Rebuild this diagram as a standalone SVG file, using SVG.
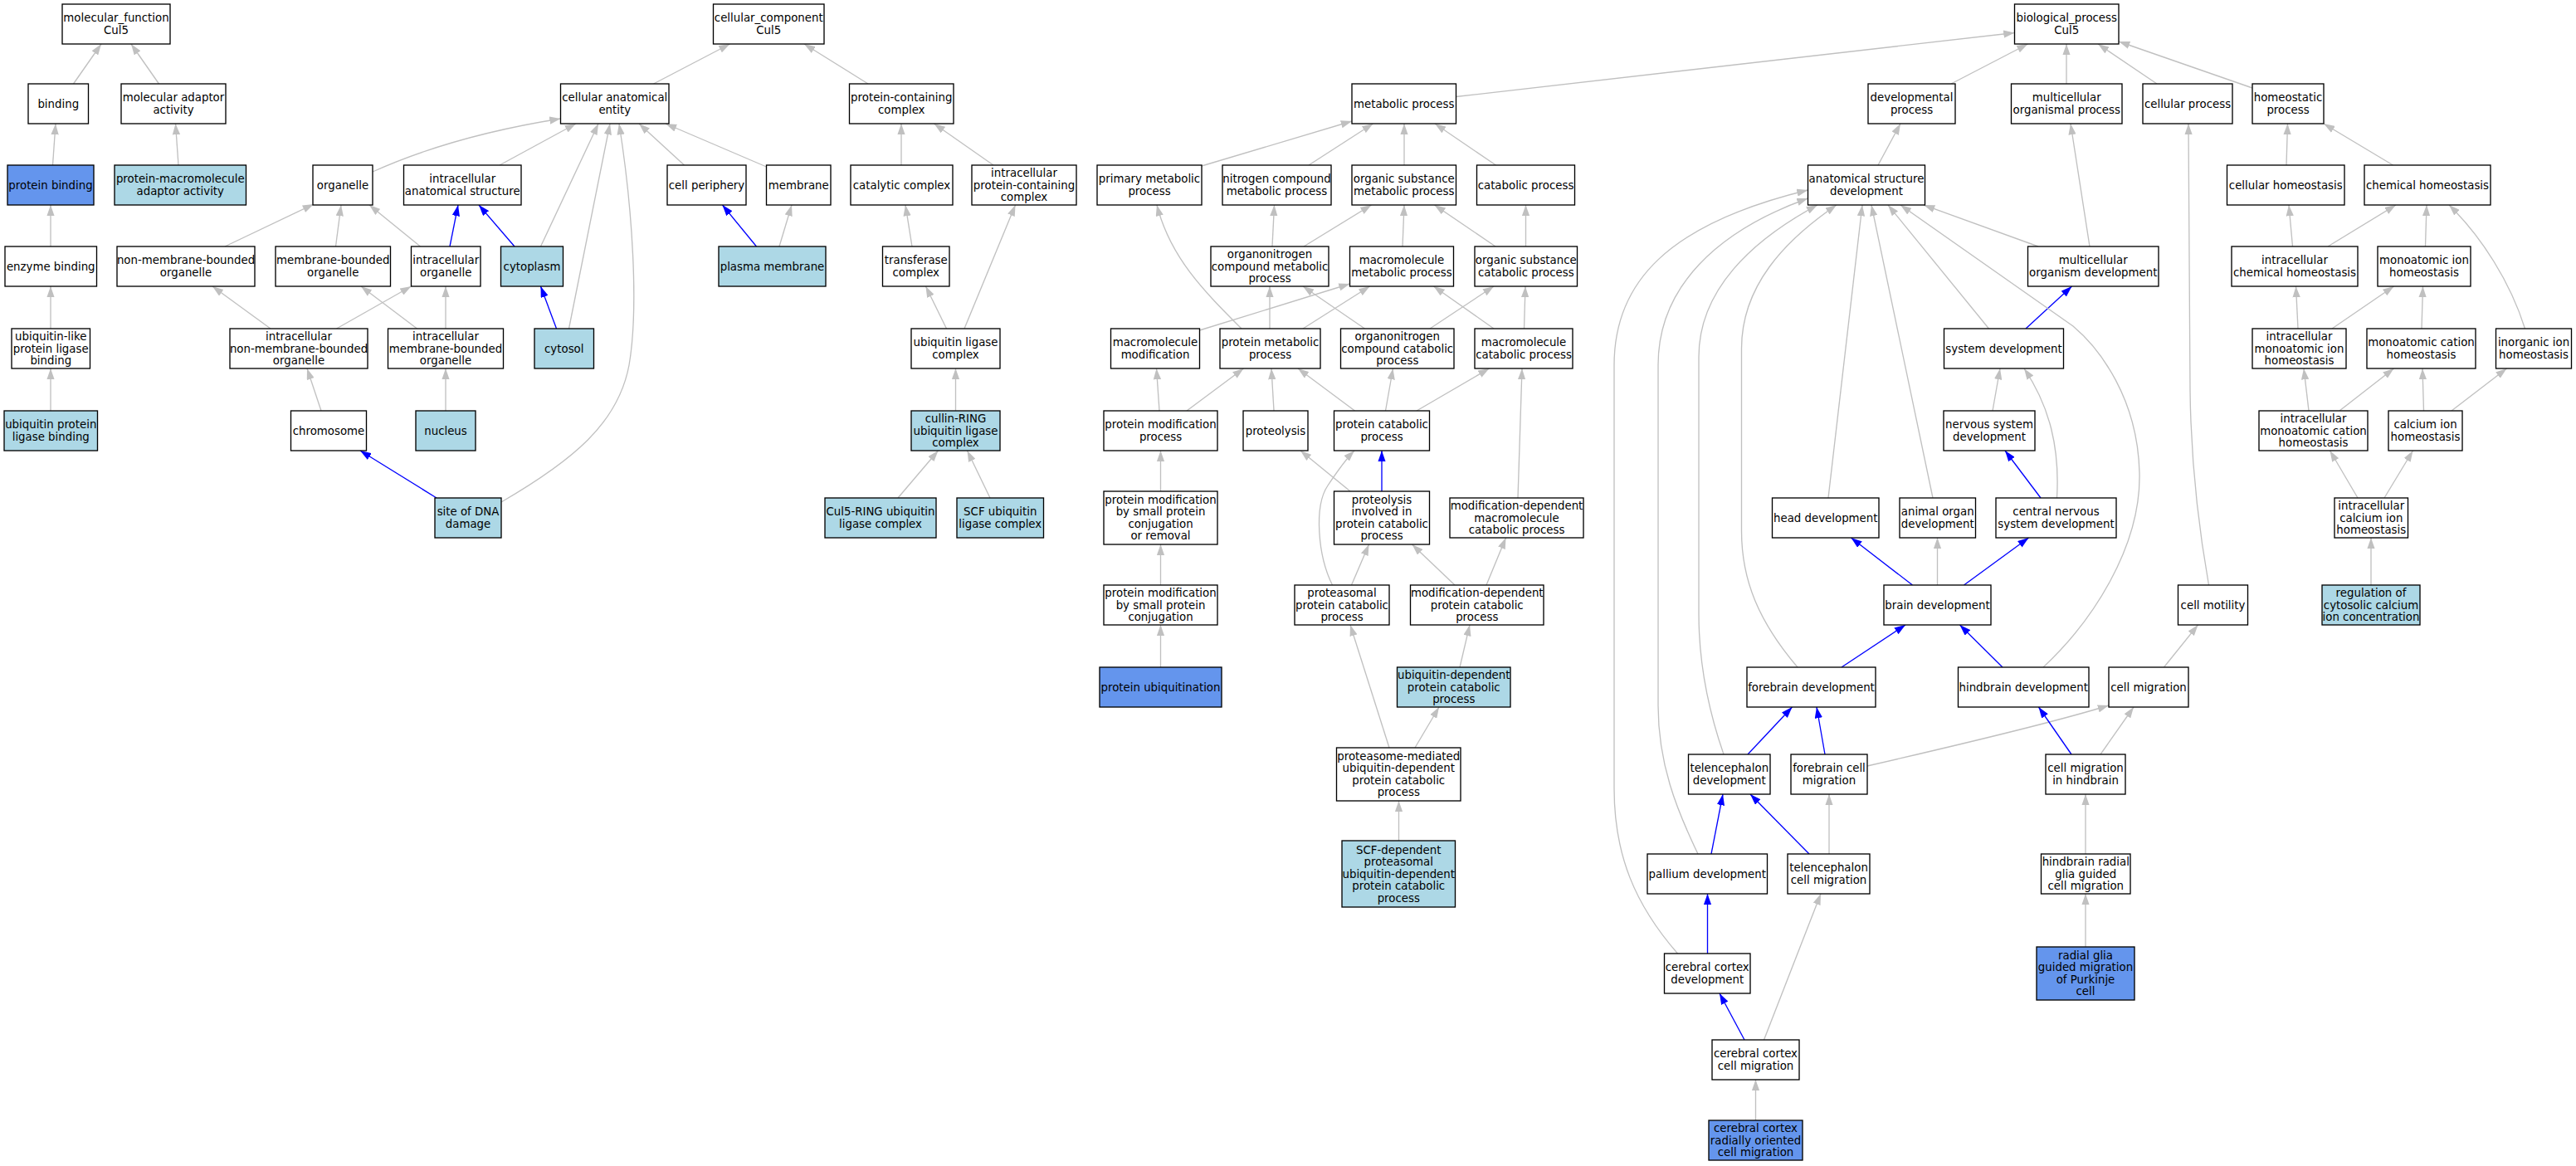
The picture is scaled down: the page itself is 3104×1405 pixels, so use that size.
<svg xmlns="http://www.w3.org/2000/svg" width="3104" height="1405" viewBox="0 0 3104 1405">
<style>
.e{fill:none;stroke:#C0C0C0;stroke-width:1.33;marker-end:url(#ag)}
.b{fill:none;stroke:#0000FF;stroke-width:1.33;marker-end:url(#ab)}
.node rect{stroke:#000;stroke-width:1.33}
.w{fill:#fff}.lb{fill:#ADD8E6}.cb{fill:#6495ED}
text{font-family:"DejaVu Sans","Liberation Sans",sans-serif;font-size:13.33px;text-anchor:middle;fill:#000}
</style>
<defs>
<marker id="ag" markerUnits="userSpaceOnUse" markerWidth="13.3" markerHeight="9.3" viewBox="0 0 13.3 9.3" refX="13.3" refY="4.65" orient="auto"><path d="M0,0 L13.3,4.65 L0,9.3 Z" fill="#C0C0C0"/></marker>
<marker id="ab" markerUnits="userSpaceOnUse" markerWidth="13.3" markerHeight="9.3" viewBox="0 0 13.3 9.3" refX="13.3" refY="4.65" orient="auto"><path d="M0,0 L13.3,4.65 L0,9.3 Z" fill="#0000FF"/></marker>
</defs>
<rect x="0" y="0" width="3104" height="1405" fill="#fff"/>
<g id="edges">
<path class="e" d="M88.5,101 L122,53"/>
<path class="e" d="M191.5,101 L158,53"/>
<path class="e" d="M63.5,199 L67,149"/>
<path class="e" d="M215,199 L211.5,149"/>
<path class="e" d="M61,297 L61,247"/>
<path class="e" d="M61,396 L61,345"/>
<path class="e" d="M61,495 L61,444"/>
<path class="e" d="M787.5,101 L879.5,53"/>
<path class="e" d="M1046,101 L969,53"/>
<path class="e" d="M449,207 C520,175 600,155 675.5,143"/>
<path class="e" d="M602,199 L694,149"/>
<path class="e" d="M651.5,297 L721,149"/>
<path class="e" d="M685.5,396 L735,149"/>
<path class="e" d="M604,605 C690,555 745,510 758,440 C770,370 762,250 746,149"/>
<path class="e" d="M824.5,199 L770,149"/>
<path class="e" d="M923.5,201 L802,149"/>
<path class="e" d="M271,297 L378,246"/>
<path class="e" d="M404.5,297 L411,247"/>
<path class="e" d="M506.5,297 L445,247"/>
<path class="b" d="M542,297 L552,247"/>
<path class="b" d="M620,297 L577,247"/>
<path class="b" d="M670.5,396 L651.5,345"/>
<path class="e" d="M326,396 L256,345"/>
<path class="e" d="M405.5,396 L495.5,345"/>
<path class="e" d="M502.5,396 L435,345"/>
<path class="e" d="M537,396 L537,345"/>
<path class="e" d="M387,495 L370,444"/>
<path class="e" d="M537,495 L537,444"/>
<path class="b" d="M526,600 L434,543"/>
<path class="b" d="M911.5,297 L870.5,247"/>
<path class="e" d="M939,297 L954,247"/>
<path class="e" d="M1086,199 L1086,149"/>
<path class="e" d="M1197,199 L1125.5,149"/>
<path class="e" d="M1099,297 L1091,247"/>
<path class="e" d="M1140.5,396 L1115.5,345"/>
<path class="e" d="M1162,396 L1223.5,247"/>
<path class="e" d="M1151.5,495 L1151.5,444"/>
<path class="e" d="M1082,600 L1130.5,543"/>
<path class="e" d="M1193,600 L1165.5,543"/>
<path class="e" d="M1754.5,116.5 L2427.5,39.5"/>
<path class="e" d="M2351,101 L2443.5,53"/>
<path class="e" d="M2490,101 L2490,53"/>
<path class="e" d="M2599,101 L2528,53"/>
<path class="e" d="M2714,106 L2553,50"/>
<path class="e" d="M1448,200 L1629,146"/>
<path class="e" d="M1577,199 L1654.5,149"/>
<path class="e" d="M1692,199 L1692,149"/>
<path class="e" d="M1802.5,199 L1729,149"/>
<path class="e" d="M1533,297 L1535.5,247"/>
<path class="e" d="M1571,297 L1652.5,247"/>
<path class="e" d="M1690,297 L1692,247"/>
<path class="e" d="M1802,297 L1728.5,247"/>
<path class="e" d="M1838.5,297 L1838.5,247"/>
<path class="e" d="M1445.5,398 L1626.5,342"/>
<path class="e" d="M1530,396 L1530,345"/>
<path class="e" d="M1570,396 L1650.5,345"/>
<path class="e" d="M1496,396 C1450,350 1410,310 1394,247"/>
<path class="e" d="M1644.5,396 L1570,345"/>
<path class="e" d="M1723,396 L1800,345"/>
<path class="e" d="M1800,396 L1727.5,345"/>
<path class="e" d="M1836.5,396 L1838,345"/>
<path class="e" d="M1397,495 L1393.5,444"/>
<path class="e" d="M1430,495 L1498.5,444"/>
<path class="e" d="M1535,495 L1532,444"/>
<path class="e" d="M1632.5,495 L1564,444"/>
<path class="e" d="M1669.5,495 L1678.5,444"/>
<path class="e" d="M1707,495 L1794.5,444"/>
<path class="e" d="M1398.5,592 L1398.5,543"/>
<path class="b" d="M1665,592 L1665,543"/>
<path class="e" d="M1627,592 L1567,543"/>
<path class="e" d="M1829,600 L1834,444"/>
<path class="e" d="M1398.5,705 L1398.5,656"/>
<path class="e" d="M1628.5,705 L1649.5,656"/>
<path class="e" d="M1605.5,705 C1588,670 1583,610 1600,585 C1610,570 1620,555 1632,543"/>
<path class="e" d="M1753,705 L1701.5,656"/>
<path class="e" d="M1791,705 L1814.5,648"/>
<path class="e" d="M1398.5,804 L1398.5,753"/>
<path class="e" d="M1759,804 L1771,753"/>
<path class="e" d="M1674,901 L1627,753"/>
<path class="e" d="M1705,901 L1734,852"/>
<path class="e" d="M1685.5,1013 L1685.5,965"/>
<path class="e" d="M2263,199 L2290,149"/>
<path class="e" d="M2518,297 L2495,149"/>
<path class="e" d="M2456,297 L2318,247"/>
<path class="b" d="M2441,396 L2496.5,345"/>
<path class="e" d="M2396.5,396 L2275,247"/>
<path class="e" d="M2401,495 L2410,444"/>
<path class="b" d="M2459,600 L2416,543"/>
<path class="e" d="M2478.5,600 C2482,540 2470,490 2439,444"/>
<path class="e" d="M2203,600 L2244,247"/>
<path class="e" d="M2329,600 L2255,247"/>
<path class="b" d="M2304.5,705 L2230.5,648"/>
<path class="e" d="M2334.5,705 L2334.5,648"/>
<path class="b" d="M2366.5,705 L2444.5,648"/>
<path class="b" d="M2219,804 L2296,753"/>
<path class="e" d="M2166,804 C2120,750 2098.5,700 2098.5,640 L2098.5,420 C2098.5,345 2150,290 2213,247"/>
<path class="b" d="M2413,804 L2361.5,753"/>
<path class="e" d="M2462,804 C2520,750 2580,660 2578,570 C2576,480 2530,420 2498,393 L2290,247"/>
<path class="b" d="M2106,909 L2159.5,852"/>
<path class="e" d="M2077,909 C2060,860 2047,800 2047,740 L2047,430 C2047,350 2110,290 2190,247"/>
<path class="b" d="M2199,909 L2189,852"/>
<path class="e" d="M2250,923 C2350,900 2470,872 2541,850"/>
<path class="b" d="M2062,1029 L2076,957"/>
<path class="e" d="M2046,1029 C2020,975 1998,920 1998,850 L1998,440 C1998,345 2070,278 2178.5,239"/>
<path class="b" d="M2180,1029 L2109,957"/>
<path class="e" d="M2204,1029 L2204,957"/>
<path class="b" d="M2057.5,1149 L2057.5,1077"/>
<path class="e" d="M2021.5,1149 C1970,1090 1945,1030 1945,950 L1945,440 C1945,340 2010,270 2178.5,229"/>
<path class="b" d="M2102,1253 L2072,1197"/>
<path class="e" d="M2125.5,1253 L2194,1077"/>
<path class="e" d="M2115.5,1350 L2115.5,1301"/>
<path class="e" d="M2661.5,705 C2650,640 2640,560 2639,470 L2637,149"/>
<path class="e" d="M2607.5,804 L2648.5,753"/>
<path class="b" d="M2496,909 L2456.5,852"/>
<path class="e" d="M2531,909 L2571,852"/>
<path class="e" d="M2513,1029 L2513,957"/>
<path class="e" d="M2513,1141 L2513,1077"/>
<path class="e" d="M2755,199 L2756.5,149"/>
<path class="e" d="M2883.5,199 L2800,149"/>
<path class="e" d="M2762.5,297 L2758,247"/>
<path class="e" d="M2805,297 L2887,247"/>
<path class="e" d="M2922.5,297 L2924,247"/>
<path class="e" d="M3042.5,396 C3025,340 2990,285 2951,247"/>
<path class="e" d="M2769,396 L2766.5,345"/>
<path class="e" d="M2810,396 L2884.5,345"/>
<path class="e" d="M2918,396 L2919.5,345"/>
<path class="e" d="M2782,495 L2776,444"/>
<path class="e" d="M2819,495 L2884.5,444"/>
<path class="e" d="M2920.5,495 L2919,444"/>
<path class="e" d="M2954,495 L3020.5,444"/>
<path class="e" d="M2841,600 L2807.5,543"/>
<path class="e" d="M2873,600 L2907.5,543"/>
<path class="e" d="M2857,705 L2857,648"/>
</g>
<g id="nodes">
<g id="n_mf" class="node"><rect class="w" x="75" y="5" width="130" height="48"/><text><tspan x="140" y="26.25">molecular_function</tspan><tspan x="140" y="40.75">Cul5</tspan></text></g>
<g id="n_binding" class="node"><rect class="w" x="34" y="101" width="72.5" height="48"/><text x="70.25" y="129.5">binding</text></g>
<g id="n_mol_adaptor" class="node"><rect class="w" x="146" y="101" width="126" height="48"/><text><tspan x="209" y="122.25">molecular adaptor</tspan><tspan x="209" y="136.75">activity</tspan></text></g>
<g id="n_protein_binding" class="node"><rect class="cb" x="9" y="199" width="104" height="48"/><text x="61" y="227.5">protein binding</text></g>
<g id="n_pm_adaptor" class="node"><rect class="lb" x="138" y="199" width="158.5" height="48"/><text><tspan x="217.25" y="220.25">protein-macromolecule</tspan><tspan x="217.25" y="234.75">adaptor activity</tspan></text></g>
<g id="n_enzyme_binding" class="node"><rect class="w" x="6" y="297" width="110.5" height="48"/><text x="61.25" y="325.5">enzyme binding</text></g>
<g id="n_ubl_binding" class="node"><rect class="w" x="14" y="396" width="94.5" height="48"/><text><tspan x="61.25" y="410">ubiquitin-like</tspan><tspan x="61.25" y="424.5">protein ligase</tspan><tspan x="61.25" y="439">binding</tspan></text></g>
<g id="n_ub_binding" class="node"><rect class="lb" x="5" y="495" width="112.5" height="48"/><text><tspan x="61.25" y="516.25">ubiquitin protein</tspan><tspan x="61.25" y="530.75">ligase binding</tspan></text></g>
<g id="n_cc" class="node"><rect class="w" x="859.5" y="5" width="133.5" height="48"/><text><tspan x="926.25" y="26.25">cellular_component</tspan><tspan x="926.25" y="40.75">Cul5</tspan></text></g>
<g id="n_cae" class="node"><rect class="w" x="675.5" y="101" width="130.5" height="48"/><text><tspan x="740.75" y="122.25">cellular anatomical</tspan><tspan x="740.75" y="136.75">entity</tspan></text></g>
<g id="n_pcc" class="node"><rect class="w" x="1023.5" y="101" width="125.5" height="48"/><text><tspan x="1086.25" y="122.25">protein-containing</tspan><tspan x="1086.25" y="136.75">complex</tspan></text></g>
<g id="n_organelle" class="node"><rect class="w" x="377" y="199" width="72" height="48"/><text x="413" y="227.5">organelle</text></g>
<g id="n_ias" class="node"><rect class="w" x="486.5" y="199" width="141.5" height="48"/><text><tspan x="557.25" y="220.25">intracellular</tspan><tspan x="557.25" y="234.75">anatomical structure</tspan></text></g>
<g id="n_cell_periphery" class="node"><rect class="w" x="804" y="199" width="95" height="48"/><text x="851.5" y="227.5">cell periphery</text></g>
<g id="n_membrane" class="node"><rect class="w" x="923.5" y="199" width="77.5" height="48"/><text x="962.25" y="227.5">membrane</text></g>
<g id="n_catalytic" class="node"><rect class="w" x="1025" y="199" width="123" height="48"/><text x="1086.5" y="227.5">catalytic complex</text></g>
<g id="n_ipcc" class="node"><rect class="w" x="1171" y="199" width="126" height="48"/><text><tspan x="1234" y="213">intracellular</tspan><tspan x="1234" y="227.5">protein-containing</tspan><tspan x="1234" y="242">complex</tspan></text></g>
<g id="n_nmbo" class="node"><rect class="w" x="141" y="297" width="166" height="48"/><text><tspan x="224" y="318.25">non-membrane-bounded</tspan><tspan x="224" y="332.75">organelle</tspan></text></g>
<g id="n_mbo" class="node"><rect class="w" x="332" y="297" width="138.5" height="48"/><text><tspan x="401.25" y="318.25">membrane-bounded</tspan><tspan x="401.25" y="332.75">organelle</tspan></text></g>
<g id="n_io" class="node"><rect class="w" x="495.5" y="297" width="83.5" height="48"/><text><tspan x="537.25" y="318.25">intracellular</tspan><tspan x="537.25" y="332.75">organelle</tspan></text></g>
<g id="n_cytoplasm" class="node"><rect class="lb" x="603.5" y="297" width="75" height="48"/><text x="641" y="325.5">cytoplasm</text></g>
<g id="n_plasma_membrane" class="node"><rect class="lb" x="866" y="297" width="129" height="48"/><text x="930.5" y="325.5">plasma membrane</text></g>
<g id="n_transferase" class="node"><rect class="w" x="1063.5" y="297" width="80.5" height="48"/><text><tspan x="1103.75" y="318.25">transferase</tspan><tspan x="1103.75" y="332.75">complex</tspan></text></g>
<g id="n_inmbo" class="node"><rect class="w" x="277" y="396" width="166" height="48"/><text><tspan x="360" y="410">intracellular</tspan><tspan x="360" y="424.5">non-membrane-bounded</tspan><tspan x="360" y="439">organelle</tspan></text></g>
<g id="n_imbo" class="node"><rect class="w" x="467.5" y="396" width="139" height="48"/><text><tspan x="537" y="410">intracellular</tspan><tspan x="537" y="424.5">membrane-bounded</tspan><tspan x="537" y="439">organelle</tspan></text></g>
<g id="n_cytosol" class="node"><rect class="lb" x="644" y="396" width="71.5" height="48"/><text x="679.75" y="424.5">cytosol</text></g>
<g id="n_ulc" class="node"><rect class="w" x="1098" y="396" width="107" height="48"/><text><tspan x="1151.5" y="417.25">ubiquitin ligase</tspan><tspan x="1151.5" y="431.75">complex</tspan></text></g>
<g id="n_chromosome" class="node"><rect class="w" x="350.5" y="495" width="91" height="48"/><text x="396" y="523.5">chromosome</text></g>
<g id="n_nucleus" class="node"><rect class="lb" x="501" y="495" width="72" height="48"/><text x="537" y="523.5">nucleus</text></g>
<g id="n_crl" class="node"><rect class="lb" x="1098" y="495" width="107" height="48"/><text><tspan x="1151.5" y="509">cullin-RING</tspan><tspan x="1151.5" y="523.5">ubiquitin ligase</tspan><tspan x="1151.5" y="538">complex</tspan></text></g>
<g id="n_site_dna" class="node"><rect class="lb" x="524" y="600" width="80" height="48"/><text><tspan x="564" y="621.25">site of DNA</tspan><tspan x="564" y="635.75">damage</tspan></text></g>
<g id="n_cul5rl" class="node"><rect class="lb" x="994" y="600" width="134" height="48"/><text><tspan x="1061" y="621.25">Cul5-RING ubiquitin</tspan><tspan x="1061" y="635.75">ligase complex</tspan></text></g>
<g id="n_scf" class="node"><rect class="lb" x="1153" y="600" width="104.5" height="48"/><text><tspan x="1205.25" y="621.25">SCF ubiquitin</tspan><tspan x="1205.25" y="635.75">ligase complex</tspan></text></g>
<g id="n_bp" class="node"><rect class="w" x="2427.5" y="5" width="125.5" height="48"/><text><tspan x="2490.25" y="26.25">biological_process</tspan><tspan x="2490.25" y="40.75">Cul5</tspan></text></g>
<g id="n_metabolic" class="node"><rect class="w" x="1629" y="101" width="125.5" height="48"/><text x="1691.75" y="129.5">metabolic process</text></g>
<g id="n_developmental" class="node"><rect class="w" x="2251" y="101" width="105" height="48"/><text><tspan x="2303.5" y="122.25">developmental</tspan><tspan x="2303.5" y="136.75">process</tspan></text></g>
<g id="n_mop" class="node"><rect class="w" x="2423.5" y="101" width="133.5" height="48"/><text><tspan x="2490.25" y="122.25">multicellular</tspan><tspan x="2490.25" y="136.75">organismal process</tspan></text></g>
<g id="n_cellular_process" class="node"><rect class="w" x="2582" y="101" width="108" height="48"/><text x="2636" y="129.5">cellular process</text></g>
<g id="n_homeostatic" class="node"><rect class="w" x="2714" y="101" width="86" height="48"/><text><tspan x="2757" y="122.25">homeostatic</tspan><tspan x="2757" y="136.75">process</tspan></text></g>
<g id="n_primary" class="node"><rect class="w" x="1322" y="199" width="126" height="48"/><text><tspan x="1385" y="220.25">primary metabolic</tspan><tspan x="1385" y="234.75">process</tspan></text></g>
<g id="n_ncmp" class="node"><rect class="w" x="1473" y="199" width="131" height="48"/><text><tspan x="1538.5" y="220.25">nitrogen compound</tspan><tspan x="1538.5" y="234.75">metabolic process</tspan></text></g>
<g id="n_osmp" class="node"><rect class="w" x="1629" y="199" width="125.5" height="48"/><text><tspan x="1691.75" y="220.25">organic substance</tspan><tspan x="1691.75" y="234.75">metabolic process</tspan></text></g>
<g id="n_catabolic" class="node"><rect class="w" x="1779.5" y="199" width="118" height="48"/><text x="1838.5" y="227.5">catabolic process</text></g>
<g id="n_asd" class="node"><rect class="w" x="2178.5" y="199" width="141" height="48"/><text><tspan x="2249" y="220.25">anatomical structure</tspan><tspan x="2249" y="234.75">development</tspan></text></g>
<g id="n_cellular_homeostasis" class="node"><rect class="w" x="2683.5" y="199" width="141.5" height="48"/><text x="2754.25" y="227.5">cellular homeostasis</text></g>
<g id="n_chemical_homeostasis" class="node"><rect class="w" x="2849" y="199" width="152" height="48"/><text x="2925" y="227.5">chemical homeostasis</text></g>
<g id="n_onmp" class="node"><rect class="w" x="1459" y="297" width="142" height="48"/><text><tspan x="1530" y="311">organonitrogen</tspan><tspan x="1530" y="325.5">compound metabolic</tspan><tspan x="1530" y="340">process</tspan></text></g>
<g id="n_mmp" class="node"><rect class="w" x="1626.5" y="297" width="125" height="48"/><text><tspan x="1689" y="318.25">macromolecule</tspan><tspan x="1689" y="332.75">metabolic process</tspan></text></g>
<g id="n_oscp" class="node"><rect class="w" x="1777" y="297" width="123.5" height="48"/><text><tspan x="1838.75" y="318.25">organic substance</tspan><tspan x="1838.75" y="332.75">catabolic process</tspan></text></g>
<g id="n_mod" class="node"><rect class="w" x="2443.5" y="297" width="157.5" height="48"/><text><tspan x="2522.25" y="318.25">multicellular</tspan><tspan x="2522.25" y="332.75">organism development</tspan></text></g>
<g id="n_ich" class="node"><rect class="w" x="2689" y="297" width="152" height="48"/><text><tspan x="2765" y="318.25">intracellular</tspan><tspan x="2765" y="332.75">chemical homeostasis</tspan></text></g>
<g id="n_mih" class="node"><rect class="w" x="2865" y="297" width="112" height="48"/><text><tspan x="2921" y="318.25">monoatomic ion</tspan><tspan x="2921" y="332.75">homeostasis</tspan></text></g>
<g id="n_mm" class="node"><rect class="w" x="1338.5" y="396" width="107" height="48"/><text><tspan x="1392" y="417.25">macromolecule</tspan><tspan x="1392" y="431.75">modification</tspan></text></g>
<g id="n_pmp" class="node"><rect class="w" x="1470" y="396" width="121" height="48"/><text><tspan x="1530.5" y="417.25">protein metabolic</tspan><tspan x="1530.5" y="431.75">process</tspan></text></g>
<g id="n_onccp" class="node"><rect class="w" x="1615.5" y="396" width="136.5" height="48"/><text><tspan x="1683.75" y="410">organonitrogen</tspan><tspan x="1683.75" y="424.5">compound catabolic</tspan><tspan x="1683.75" y="439">process</tspan></text></g>
<g id="n_mcp" class="node"><rect class="w" x="1777" y="396" width="118" height="48"/><text><tspan x="1836" y="417.25">macromolecule</tspan><tspan x="1836" y="431.75">catabolic process</tspan></text></g>
<g id="n_sd" class="node"><rect class="w" x="2342.5" y="396" width="144" height="48"/><text x="2414.5" y="424.5">system development</text></g>
<g id="n_imih" class="node"><rect class="w" x="2714" y="396" width="113" height="48"/><text><tspan x="2770.5" y="410">intracellular</tspan><tspan x="2770.5" y="424.5">monoatomic ion</tspan><tspan x="2770.5" y="439">homeostasis</tspan></text></g>
<g id="n_mch" class="node"><rect class="w" x="2852" y="396" width="131" height="48"/><text><tspan x="2917.5" y="417.25">monoatomic cation</tspan><tspan x="2917.5" y="431.75">homeostasis</tspan></text></g>
<g id="n_iih" class="node"><rect class="w" x="3007.5" y="396" width="91" height="48"/><text><tspan x="3053" y="417.25">inorganic ion</tspan><tspan x="3053" y="431.75">homeostasis</tspan></text></g>
<g id="n_pmodp" class="node"><rect class="w" x="1330" y="495" width="137" height="48"/><text><tspan x="1398.5" y="516.25">protein modification</tspan><tspan x="1398.5" y="530.75">process</tspan></text></g>
<g id="n_proteolysis" class="node"><rect class="w" x="1498" y="495" width="78" height="48"/><text x="1537" y="523.5">proteolysis</text></g>
<g id="n_pcp" class="node"><rect class="w" x="1607.5" y="495" width="115" height="48"/><text><tspan x="1665" y="516.25">protein catabolic</tspan><tspan x="1665" y="530.75">process</tspan></text></g>
<g id="n_nsd" class="node"><rect class="w" x="2342" y="495" width="110" height="48"/><text><tspan x="2397" y="516.25">nervous system</tspan><tspan x="2397" y="530.75">development</tspan></text></g>
<g id="n_imch" class="node"><rect class="w" x="2722" y="495" width="131" height="48"/><text><tspan x="2787.5" y="509">intracellular</tspan><tspan x="2787.5" y="523.5">monoatomic cation</tspan><tspan x="2787.5" y="538">homeostasis</tspan></text></g>
<g id="n_cih" class="node"><rect class="w" x="2878" y="495" width="89" height="48"/><text><tspan x="2922.5" y="516.25">calcium ion</tspan><tspan x="2922.5" y="530.75">homeostasis</tspan></text></g>
<g id="n_pmscr" class="node"><rect class="w" x="1330" y="592" width="137" height="64"/><text><tspan x="1398.5" y="606.75">protein modification</tspan><tspan x="1398.5" y="621.25">by small protein</tspan><tspan x="1398.5" y="635.75">conjugation</tspan><tspan x="1398.5" y="650.25">or removal</tspan></text></g>
<g id="n_pipcp" class="node"><rect class="w" x="1607.5" y="592" width="115" height="64"/><text><tspan x="1665" y="606.75">proteolysis</tspan><tspan x="1665" y="621.25">involved in</tspan><tspan x="1665" y="635.75">protein catabolic</tspan><tspan x="1665" y="650.25">process</tspan></text></g>
<g id="n_mdmcp" class="node"><rect class="w" x="1747" y="600" width="161" height="48"/><text><tspan x="1827.5" y="614">modification-dependent</tspan><tspan x="1827.5" y="628.5">macromolecule</tspan><tspan x="1827.5" y="643">catabolic process</tspan></text></g>
<g id="n_head" class="node"><rect class="w" x="2135.5" y="600" width="128.5" height="48"/><text x="2199.75" y="628.5">head development</text></g>
<g id="n_aod" class="node"><rect class="w" x="2289" y="600" width="91.5" height="48"/><text><tspan x="2334.75" y="621.25">animal organ</tspan><tspan x="2334.75" y="635.75">development</tspan></text></g>
<g id="n_cnsd" class="node"><rect class="w" x="2405" y="600" width="145" height="48"/><text><tspan x="2477.5" y="621.25">central nervous</tspan><tspan x="2477.5" y="635.75">system development</tspan></text></g>
<g id="n_icih" class="node"><rect class="w" x="2813" y="600" width="88.5" height="48"/><text><tspan x="2857.25" y="614">intracellular</tspan><tspan x="2857.25" y="628.5">calcium ion</tspan><tspan x="2857.25" y="643">homeostasis</tspan></text></g>
<g id="n_pmsc" class="node"><rect class="w" x="1330" y="705" width="137" height="48"/><text><tspan x="1398.5" y="719">protein modification</tspan><tspan x="1398.5" y="733.5">by small protein</tspan><tspan x="1398.5" y="748">conjugation</tspan></text></g>
<g id="n_ppcp" class="node"><rect class="w" x="1560" y="705" width="114" height="48"/><text><tspan x="1617" y="719">proteasomal</tspan><tspan x="1617" y="733.5">protein catabolic</tspan><tspan x="1617" y="748">process</tspan></text></g>
<g id="n_mdpcp" class="node"><rect class="w" x="1699.5" y="705" width="160.5" height="48"/><text><tspan x="1779.75" y="719">modification-dependent</tspan><tspan x="1779.75" y="733.5">protein catabolic</tspan><tspan x="1779.75" y="748">process</tspan></text></g>
<g id="n_brain" class="node"><rect class="w" x="2270" y="705" width="129" height="48"/><text x="2334.5" y="733.5">brain development</text></g>
<g id="n_motility" class="node"><rect class="w" x="2624.5" y="705" width="84" height="48"/><text x="2666.5" y="733.5">cell motility</text></g>
<g id="n_rcci" class="node"><rect class="lb" x="2798" y="705" width="118" height="48"/><text><tspan x="2857" y="719">regulation of</tspan><tspan x="2857" y="733.5">cytosolic calcium</tspan><tspan x="2857" y="748">ion concentration</tspan></text></g>
<g id="n_pub" class="node"><rect class="cb" x="1325" y="804" width="147" height="48"/><text x="1398.5" y="832.5">protein ubiquitination</text></g>
<g id="n_udpcp" class="node"><rect class="lb" x="1683.5" y="804" width="136.5" height="48"/><text><tspan x="1751.75" y="818">ubiquitin-dependent</tspan><tspan x="1751.75" y="832.5">protein catabolic</tspan><tspan x="1751.75" y="847">process</tspan></text></g>
<g id="n_forebrain" class="node"><rect class="w" x="2105" y="804" width="155" height="48"/><text x="2182.5" y="832.5">forebrain development</text></g>
<g id="n_hindbrain" class="node"><rect class="w" x="2359.5" y="804" width="157.5" height="48"/><text x="2438.25" y="832.5">hindbrain development</text></g>
<g id="n_cm" class="node"><rect class="w" x="2541" y="804" width="96" height="48"/><text x="2589" y="832.5">cell migration</text></g>
<g id="n_pmudpcp" class="node"><rect class="w" x="1610.5" y="901" width="149.5" height="64"/><text><tspan x="1685.25" y="915.75">proteasome-mediated</tspan><tspan x="1685.25" y="930.25">ubiquitin-dependent</tspan><tspan x="1685.25" y="944.75">protein catabolic</tspan><tspan x="1685.25" y="959.25">process</tspan></text></g>
<g id="n_telen" class="node"><rect class="w" x="2034.5" y="909" width="98.5" height="48"/><text><tspan x="2083.75" y="930.25">telencephalon</tspan><tspan x="2083.75" y="944.75">development</tspan></text></g>
<g id="n_fcm" class="node"><rect class="w" x="2158" y="909" width="92" height="48"/><text><tspan x="2204" y="930.25">forebrain cell</tspan><tspan x="2204" y="944.75">migration</tspan></text></g>
<g id="n_cmh" class="node"><rect class="w" x="2465" y="909" width="96" height="48"/><text><tspan x="2513" y="930.25">cell migration</tspan><tspan x="2513" y="944.75">in hindbrain</tspan></text></g>
<g id="n_scfdep" class="node"><rect class="lb" x="1617" y="1013" width="136.5" height="80"/><text><tspan x="1685.25" y="1028.5">SCF-dependent</tspan><tspan x="1685.25" y="1043">proteasomal</tspan><tspan x="1685.25" y="1057.5">ubiquitin-dependent</tspan><tspan x="1685.25" y="1072">protein catabolic</tspan><tspan x="1685.25" y="1086.5">process</tspan></text></g>
<g id="n_pallium" class="node"><rect class="w" x="1985" y="1029" width="144.5" height="48"/><text x="2057.25" y="1057.5">pallium development</text></g>
<g id="n_tcm" class="node"><rect class="w" x="2154" y="1029" width="99" height="48"/><text><tspan x="2203.5" y="1050.25">telencephalon</tspan><tspan x="2203.5" y="1064.75">cell migration</tspan></text></g>
<g id="n_hrgg" class="node"><rect class="w" x="2459.5" y="1029" width="107.5" height="48"/><text><tspan x="2513.25" y="1043">hindbrain radial</tspan><tspan x="2513.25" y="1057.5">glia guided</tspan><tspan x="2513.25" y="1072">cell migration</tspan></text></g>
<g id="n_ccd" class="node"><rect class="w" x="2005.5" y="1149" width="103.5" height="48"/><text><tspan x="2057.25" y="1170.25">cerebral cortex</tspan><tspan x="2057.25" y="1184.75">development</tspan></text></g>
<g id="n_rgpc" class="node"><rect class="cb" x="2454" y="1141" width="118" height="64"/><text><tspan x="2513" y="1155.75">radial glia</tspan><tspan x="2513" y="1170.25">guided migration</tspan><tspan x="2513" y="1184.75">of Purkinje</tspan><tspan x="2513" y="1199.25">cell</tspan></text></g>
<g id="n_cccm" class="node"><rect class="w" x="2063" y="1253" width="105" height="48"/><text><tspan x="2115.5" y="1274.25">cerebral cortex</tspan><tspan x="2115.5" y="1288.75">cell migration</tspan></text></g>
<g id="n_ccrocm" class="node"><rect class="cb" x="2059" y="1350" width="113" height="48"/><text><tspan x="2115.5" y="1364">cerebral cortex</tspan><tspan x="2115.5" y="1378.5">radially oriented</tspan><tspan x="2115.5" y="1393">cell migration</tspan></text></g>
</g>
</svg>
